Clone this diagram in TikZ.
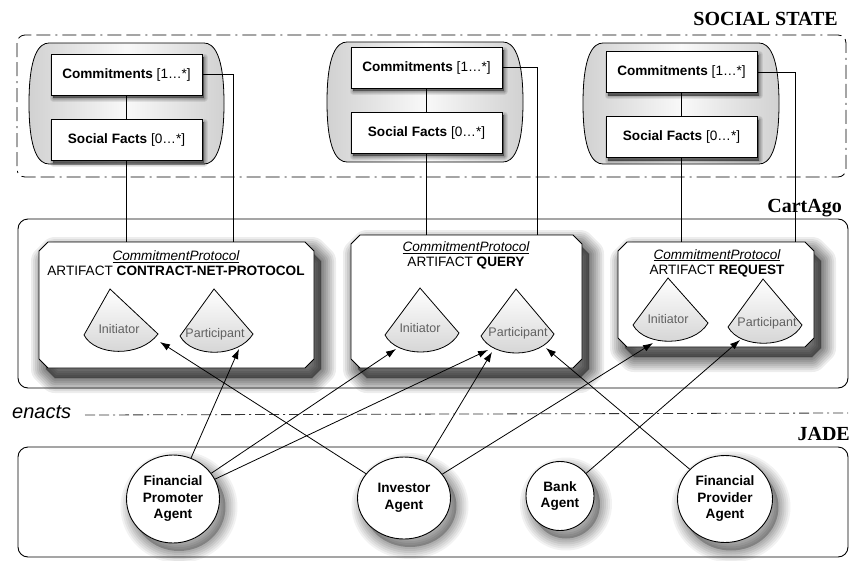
\documentclass[tikz,border=0pt]{standalone}
\usepackage{fontspec}
\setsansfont{Liberation Sans}
\newfontfamily\titlefont{Liberation Serif}
\usetikzlibrary{shapes.geometric,arrows.meta}
\newcommand\capsulepath[4]{%
  \path[capsule] ({#1+20},#2) -- ({#3-20},#2)
    .. controls ({#3-10},#2) and (#3,{#2+12}) .. (#3,{(#2+#4)/2})
    .. controls (#3,{#4-12}) and ({#3-10},#4) .. ({#3-20},#4)
    -- ({#1+20},#4)
    .. controls ({#1+10},#4) and (#1,{#4-12}) .. (#1,{(#2+#4)/2})
    .. controls (#1,{#2+12}) and ({#1+10},#2) .. cycle;}
\newcommand\artifactpath[4]{%
  \path[artifact] ({#1+9},#2) -- ({#3-9},#2) -- (#3,{#2+9}) -- (#3,{#4-9})
    -- ({#3-9},#4) -- ({#1+9},#4) -- (#1,{#4-9}) -- (#1,{#2+9}) -- cycle;}
\begin{document}
\begin{tikzpicture}[x=1pt,y=-1pt,
  title/.style={font=\titlefont\bfseries\fontsize{20}{22}\selectfont, anchor=base east, inner sep=0pt},
  layer/.style={draw, line width=0.9pt, rounded corners=10pt},
  sstate/.style={draw, line width=0.8pt, rounded corners=8pt,
     dash pattern=on 14pt off 5pt on 14pt off 5pt on 2pt off 5pt},
  enline/.style={draw, line width=0.8pt, black!80,
     dash pattern=on 10pt off 4pt on 10pt off 4pt on 2pt off 4pt},
  sl/.style n args={4}{preaction={draw=black, fill=none, draw opacity=#4, line width=#3,
     line join=round, transform canvas={xshift=#1,yshift=#2}}},
  sf/.style n args={3}{preaction={draw=none, fill=black, fill opacity=#3,
     transform canvas={xshift=#1,yshift=#2}}},
  boxshadow/.style={sl={2pt}{-3pt}{7pt}{0.08}, sl={2pt}{-3pt}{5pt}{0.08},
     sl={2pt}{-3pt}{3pt}{0.1}, sl={2pt}{-3pt}{1pt}{0.1}, sf={2pt}{-3pt}{0.5}},
  bigshadow/.style={sl={7pt}{-10pt}{30pt}{0.07}, sl={7pt}{-10pt}{26pt}{0.07},
     sl={7pt}{-10pt}{22pt}{0.08}, sl={7pt}{-10pt}{18pt}{0.08}, sl={7pt}{-10pt}{14pt}{0.09},
     sl={7pt}{-10pt}{10pt}{0.09}, sl={7pt}{-10pt}{6pt}{0.09}, sl={7pt}{-10pt}{2pt}{0.09},
     sf={7pt}{-10pt}{0.45}},
  agentshadow/.style={sl={6pt}{-8pt}{24pt}{0.05}, sl={6pt}{-8pt}{20pt}{0.06},
     sl={6pt}{-8pt}{16pt}{0.06}, sl={6pt}{-8pt}{12pt}{0.07}, sl={6pt}{-8pt}{8pt}{0.07},
     sl={6pt}{-8pt}{4pt}{0.07}, sf={6pt}{-8pt}{0.25}},
  cbox/.style={draw, fill=white, line width=0.9pt, minimum width=151pt, minimum height=41pt,
     inner sep=0pt, font=\sffamily\fontsize{13.6}{15}\selectfont, boxshadow},
  capsule/.style={draw, line width=0.8pt, left color=gray!36, right color=gray!36, middle color=gray!5},
  artifact/.style={draw, fill=white, line width=0.9pt, bigshadow},
  atext/.style={align=center, font=\sffamily\fontsize{13.6}{15}\selectfont, inner sep=0pt},
  sector/.style={draw, line width=0.8pt, top color=white, bottom color=gray!35},
  role/.style={font=\sffamily\fontsize{12.5}{14}\selectfont, text=gray!75!black, inner sep=0pt},
  agent/.style={ellipse, draw, fill=white, line width=0.9pt, inner sep=0pt, align=center,
     font=\sffamily\bfseries\fontsize{13.6}{16.5}\selectfont, agentshadow},
  link/.style={line width=0.8pt},
  arr/.style={line width=0.8pt, -{Latex[length=10pt,width=7pt]}},
]
\useasboundingbox (0,0) rectangle (852,560);

% ---------- SOCIAL STATE ----------
\node[title] (tss) at (838,25) {SOCIAL STATE};
\draw[sstate] (17,35) rectangle (846,177);

\capsulepath{29}{43}{224}{164}
\capsulepath{327}{42}{523}{162}
\capsulepath{583}{43}{779}{164}

\node[cbox] (c1) at (126.5,74.5) {\textbf{Commitments} [1…*]};
\node[cbox] (s1) at (126.5,139.5) {\textbf{Social Facts} [0…*]};
\node[cbox] (c2) at (426.5,67.5) {\textbf{Commitments} [1…*]};
\node[cbox] (s2) at (426.5,132.5) {\textbf{Social Facts} [0…*]};
\node[cbox] (c3) at (681.5,72) {\textbf{Commitments} [1…*]};
\node[cbox] (s3) at (681.5,137) {\textbf{Social Facts} [0…*]};

\draw[link] (c1) -- (s1);
\draw[link] (c2) -- (s2);
\draw[link] (c3) -- (s3);

% ---------- CartAgo ----------
\node[title] (tca) at (842,212) {CartAgo};
\draw[layer] (18,219) rectangle (848,388);

\artifactpath{39}{242}{314}{368}
\artifactpath{351}{235}{582}{368}
\artifactpath{618}{242}{814}{347}

\node[atext] (a1t) at (176,263.5) {\underline{\itshape CommitmentProtocol}\\ARTIFACT \textbf{CONTRACT-NET-PROTOCOL}};
\node[atext] (a2t) at (466,255.5) {\underline{\itshape CommitmentProtocol}\\ARTIFACT \textbf{QUERY}};
\node[atext] (a3t) at (717,263) {\underline{\itshape CommitmentProtocol}\\ARTIFACT \textbf{REQUEST}};

% role sectors
\path[sector] (110,289) -- (84,335) .. controls (95,356) and (140,358) .. (158,334) -- cycle;
\path[sector] (214,289) -- (180,336) .. controls (192,358) and (238,358) .. (253,334) -- cycle;
\path[sector] (420,288) -- (385,335) .. controls (397,358) and (446,358) .. (459,333) -- cycle;
\path[sector] (516,289) -- (481,336) .. controls (493,359) and (541,359) .. (554,334) -- cycle;
\path[sector] (668,278) -- (633,325) .. controls (645,347) and (694,347) .. (708,323) -- cycle;
\path[sector] (763,279) -- (728,327) .. controls (740,349) and (789,349) .. (802,325) -- cycle;

\node[role] (r1i) at (119,329) {Initiator};
\node[role] (r1p) at (215,334) {Participant};
\node[role] (r2i) at (420,328) {Initiator};
\node[role] (r2p) at (518,333) {Participant};
\node[role] (r3i) at (668,319) {Initiator};
\node[role] (r3p) at (767,323) {Participant};

% connector end points on artifacts and roles
\coordinate (t1a) at (126.5,242);
\coordinate (t1b) at (233,242);
\coordinate (t2a) at (426.5,235);
\coordinate (t2b) at (537,235);
\coordinate (t3a) at (681.5,242);
\coordinate (t3b) at (795,242);

\coordinate (h1i) at (160,342);
\coordinate (h1p) at (239,349);
\coordinate (h2i) at (396,349);
\coordinate (h2pa) at (488,350);
\coordinate (h2pb) at (492,352);
\coordinate (h2pc) at (546,348);
\coordinate (h3i) at (653,343);
\coordinate (h3p) at (740,340);

\draw[link] (s1) -- (t1a);
\draw[link] (c1.east) -| (t1b);
\draw[link] (s2) -- (t2a);
\draw[link] (c2.east) -| (t2b);
\draw[link] (s3) -- (t3a);
\draw[link] (c3.east) -| (t3b);

% ---------- enacts ----------
\node[font=\sffamily\itshape\fontsize{20}{22}\selectfont, anchor=west, inner sep=0pt] (en) at (12,412) {enacts};
\coordinate (el) at (85,415);
\coordinate (er) at (848,413);
\draw[enline] (el) -- (er);

% ---------- JADE ----------
\node[title] (tja) at (850,440) {JADE};
\draw[layer] (18,447) rectangle (848,557);

\node[agent, minimum width=93pt, minimum height=88pt] (fp) at (173,499) {Financial\\Promoter\\Agent};
\node[agent, minimum width=93pt, minimum height=82pt] (inv) at (404,498) {Investor\\Agent};
\node[agent, minimum width=68pt, minimum height=69pt] (bank) at (560,496) {Bank\\Agent};
\node[agent, minimum width=95pt, minimum height=87pt] (prov) at (725,499) {Financial\\Provider\\Agent};

% ---------- enactment arrows ----------
\draw[arr] (inv) -- (h1i);
\draw[arr] (fp) -- (h1p);
\draw[arr] (fp) -- (h2i);
\draw[arr] (fp) -- (h2pa);
\draw[arr] (inv) -- (h2pb);
\draw[arr] (prov) -- (h2pc);
\draw[arr] (inv) -- (h3i);
\draw[arr] (bank) -- (h3p);
\end{tikzpicture}
\end{document}
